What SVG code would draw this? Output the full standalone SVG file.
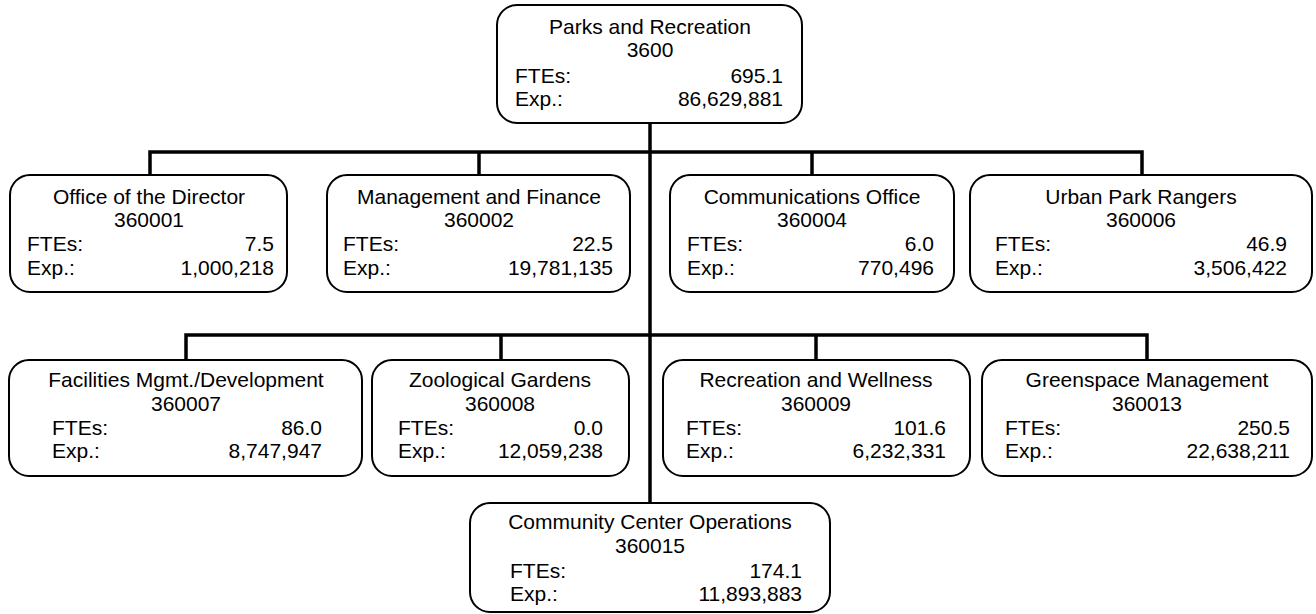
<svg xmlns="http://www.w3.org/2000/svg" width="1316" height="614" viewBox="0 0 1316 614">
<style>
.box{fill:#fff;stroke:#000;stroke-width:2}
.c{fill:none;stroke:#000;stroke-width:3.5}
text{font-family:"Liberation Sans",Arial,sans-serif;font-size:21px;fill:#000}
.m{text-anchor:middle}
.e{text-anchor:end}
</style>
<rect width="1316" height="614" fill="#fff"/>
<g id="connectors">
<line class="c" x1="650" y1="123" x2="650" y2="503"/>
<polyline class="c" points="150,175 150,152 1142,152 1142,175"/>
<line class="c" x1="479" y1="152" x2="479" y2="175"/>
<line class="c" x1="812" y1="152" x2="812" y2="175"/>
<polyline class="c" points="186,360 186,335 1147,335 1147,360"/>
<line class="c" x1="501" y1="335" x2="501" y2="360"/>
<line class="c" x1="816" y1="335" x2="816" y2="360"/>
</g>
<g id="n3600">
<rect class="box" x="497" y="5" width="305" height="118" rx="20"/>
<text class="m" x="650" y="34">Parks and Recreation</text>
<text class="m" x="650" y="57">3600</text>
<text x="515" y="83">FTEs:</text><text class="e" x="783" y="83">695.1</text>
<text x="515" y="106">Exp.:</text><text class="e" x="783" y="106">86,629,881</text>
</g>
<g id="n360001">
<rect class="box" x="10" y="175" width="277" height="117" rx="20"/>
<text class="m" x="149" y="204">Office of the Director</text>
<text class="m" x="149" y="227">360001</text>
<text x="27" y="251">FTEs:</text><text class="e" x="274" y="251">7.5</text>
<text x="27" y="275">Exp.:</text><text class="e" x="274" y="275">1,000,218</text>
</g>
<g id="n360002">
<rect class="box" x="327" y="175" width="303" height="117" rx="20"/>
<text class="m" x="479" y="204">Management and Finance</text>
<text class="m" x="479" y="227">360002</text>
<text x="343" y="251">FTEs:</text><text class="e" x="613" y="251">22.5</text>
<text x="343" y="275">Exp.:</text><text class="e" x="613" y="275">19,781,135</text>
</g>
<g id="n360004">
<rect class="box" x="670" y="175" width="284" height="117" rx="20"/>
<text class="m" x="812" y="204">Communications Office</text>
<text class="m" x="812" y="227">360004</text>
<text x="687" y="251">FTEs:</text><text class="e" x="934" y="251">6.0</text>
<text x="687" y="275">Exp.:</text><text class="e" x="934" y="275">770,496</text>
</g>
<g id="n360006">
<rect class="box" x="970" y="175" width="342" height="117" rx="20"/>
<text class="m" x="1141" y="204">Urban Park Rangers</text>
<text class="m" x="1141" y="227">360006</text>
<text x="995" y="251">FTEs:</text><text class="e" x="1287" y="251">46.9</text>
<text x="995" y="275">Exp.:</text><text class="e" x="1287" y="275">3,506,422</text>
</g>
<g id="n360007">
<rect class="box" x="9" y="360" width="353" height="116" rx="20"/>
<text class="m" x="186" y="387">Facilities Mgmt./Development</text>
<text class="m" x="186" y="411">360007</text>
<text x="52" y="435">FTEs:</text><text class="e" x="322" y="435">86.0</text>
<text x="52" y="458">Exp.:</text><text class="e" x="322" y="458">8,747,947</text>
</g>
<g id="n360008">
<rect class="box" x="372" y="360" width="257" height="116" rx="20"/>
<text class="m" x="500" y="387">Zoological Gardens</text>
<text class="m" x="500" y="411">360008</text>
<text x="398" y="435">FTEs:</text><text class="e" x="603" y="435">0.0</text>
<text x="398" y="458">Exp.:</text><text class="e" x="603" y="458">12,059,238</text>
</g>
<g id="n360009">
<rect class="box" x="663" y="360" width="307" height="116" rx="20"/>
<text class="m" x="816" y="387">Recreation and Wellness</text>
<text class="m" x="816" y="411">360009</text>
<text x="686" y="435">FTEs:</text><text class="e" x="946" y="435">101.6</text>
<text x="686" y="458">Exp.:</text><text class="e" x="946" y="458">6,232,331</text>
</g>
<g id="n360013">
<rect class="box" x="982" y="360" width="330" height="116" rx="20"/>
<text class="m" x="1147" y="387">Greenspace Management</text>
<text class="m" x="1147" y="411">360013</text>
<text x="1005" y="435">FTEs:</text><text class="e" x="1290" y="435">250.5</text>
<text x="1005" y="458">Exp.:</text><text class="e" x="1290" y="458">22,638,211</text>
</g>
<g id="n360015">
<rect class="box" x="470" y="503" width="360" height="109" rx="20"/>
<text class="m" x="650" y="529">Community Center Operations</text>
<text class="m" x="650" y="553">360015</text>
<text x="510" y="578">FTEs:</text><text class="e" x="802" y="578">174.1</text>
<text x="510" y="601">Exp.:</text><text class="e" x="802" y="601">11,893,883</text>
</g>
</svg>
